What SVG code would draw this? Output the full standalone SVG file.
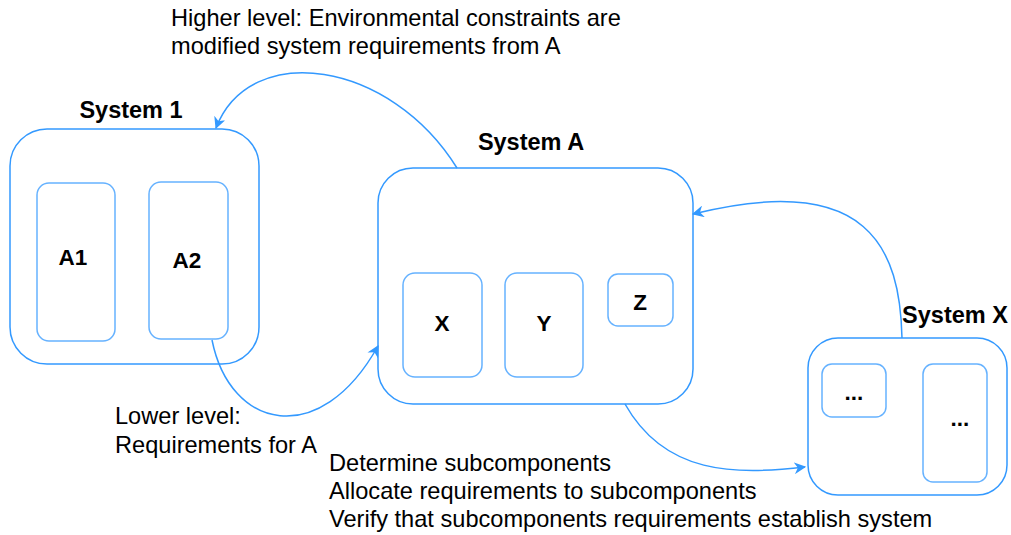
<svg xmlns="http://www.w3.org/2000/svg" width="1011" height="535" viewBox="0 0 1011 535">
<defs>
<marker id="arr" viewBox="0 0 10 10" refX="9" refY="5" markerWidth="12" markerHeight="12" markerUnits="userSpaceOnUse" orient="auto">
<path d="M0,0 L10,5 L0,10 L3,5 Z" fill="#3399ff"/>
</marker>
<style>
.outer{fill:#fff;stroke:#3399ff;stroke-width:1.5}
.inner{fill:#fff;stroke:#66b2ff;stroke-width:1.5}
.title{font-family:"Liberation Sans",Arial,sans-serif;font-weight:bold;font-size:23.5px;fill:#000;text-anchor:middle}
.lbl{font-family:"Liberation Sans",Arial,sans-serif;font-weight:bold;font-size:22.5px;fill:#000;text-anchor:middle}
.txt{font-family:"Liberation Sans",Arial,sans-serif;font-size:23.6px;fill:#000}
.conn{fill:none;stroke:#3399ff;stroke-width:1.5;marker-end:url(#arr)}
</style>
</defs>
<rect width="1011" height="535" fill="#fff"/>

<g id="system1">
<rect class="outer" x="10" y="129" width="249" height="235" rx="37"/>
<text class="title" x="131" y="118">System 1</text>
<g id="a1"><rect class="inner" x="37" y="183" width="78" height="158" rx="12"/><text class="lbl" x="73" y="265">A1</text></g>
<g id="a2"><rect class="inner" x="149" y="182" width="79" height="157" rx="12"/><text class="lbl" x="187" y="268">A2</text></g>
</g>

<g id="systemA">
<rect class="outer" x="378" y="168" width="315" height="236" rx="35"/>
<text class="title" x="531" y="150">System A</text>
<g id="x"><rect class="inner" x="403" y="273" width="79" height="104" rx="12"/><text class="lbl" x="442" y="331">X</text></g>
<g id="y"><rect class="inner" x="505" y="273" width="78" height="104" rx="12"/><text class="lbl" x="544" y="331">Y</text></g>
<g id="z"><rect class="inner" x="608" y="274" width="65" height="52" rx="10"/><text class="lbl" x="640" y="310">Z</text></g>
</g>

<g id="systemX">
<rect class="outer" x="808" y="338" width="199" height="157" rx="30"/>
<text class="title" x="955" y="323">System X</text>
<g id="x1"><rect class="inner" x="822" y="364" width="64" height="53" rx="10"/><text class="lbl" x="854" y="400">...</text></g>
<g id="x2"><rect class="inner" x="923" y="364" width="64" height="118" rx="10"/><text class="lbl" x="960" y="426">...</text></g>
</g>

<g id="connectors">
<path class="conn" d="M457,168 C390,60 250,40 216,128"/>
<path class="conn" d="M212,340 C230,430 320,450 378,346"/>
<path class="conn" d="M625,404 C665,475 735,475 805,467"/>
<path class="conn" d="M902,338 C900,250 870,170 693,214"/>
</g>

<g id="labels">
<text class="txt" x="171" y="26">Higher level: Environmental constraints are</text>
<text class="txt" x="171" y="54">modified system requirements from A</text>
<text class="txt" x="115" y="424">Lower level:</text>
<text class="txt" x="115" y="453">Requirements for A</text>
<text class="txt" x="329" y="471">Determine subcomponents</text>
<text class="txt" x="329" y="499">Allocate requirements to subcomponents</text>
<text class="txt" x="329" y="527">Verify that subcomponents requirements establish system</text>
</g>
</svg>
